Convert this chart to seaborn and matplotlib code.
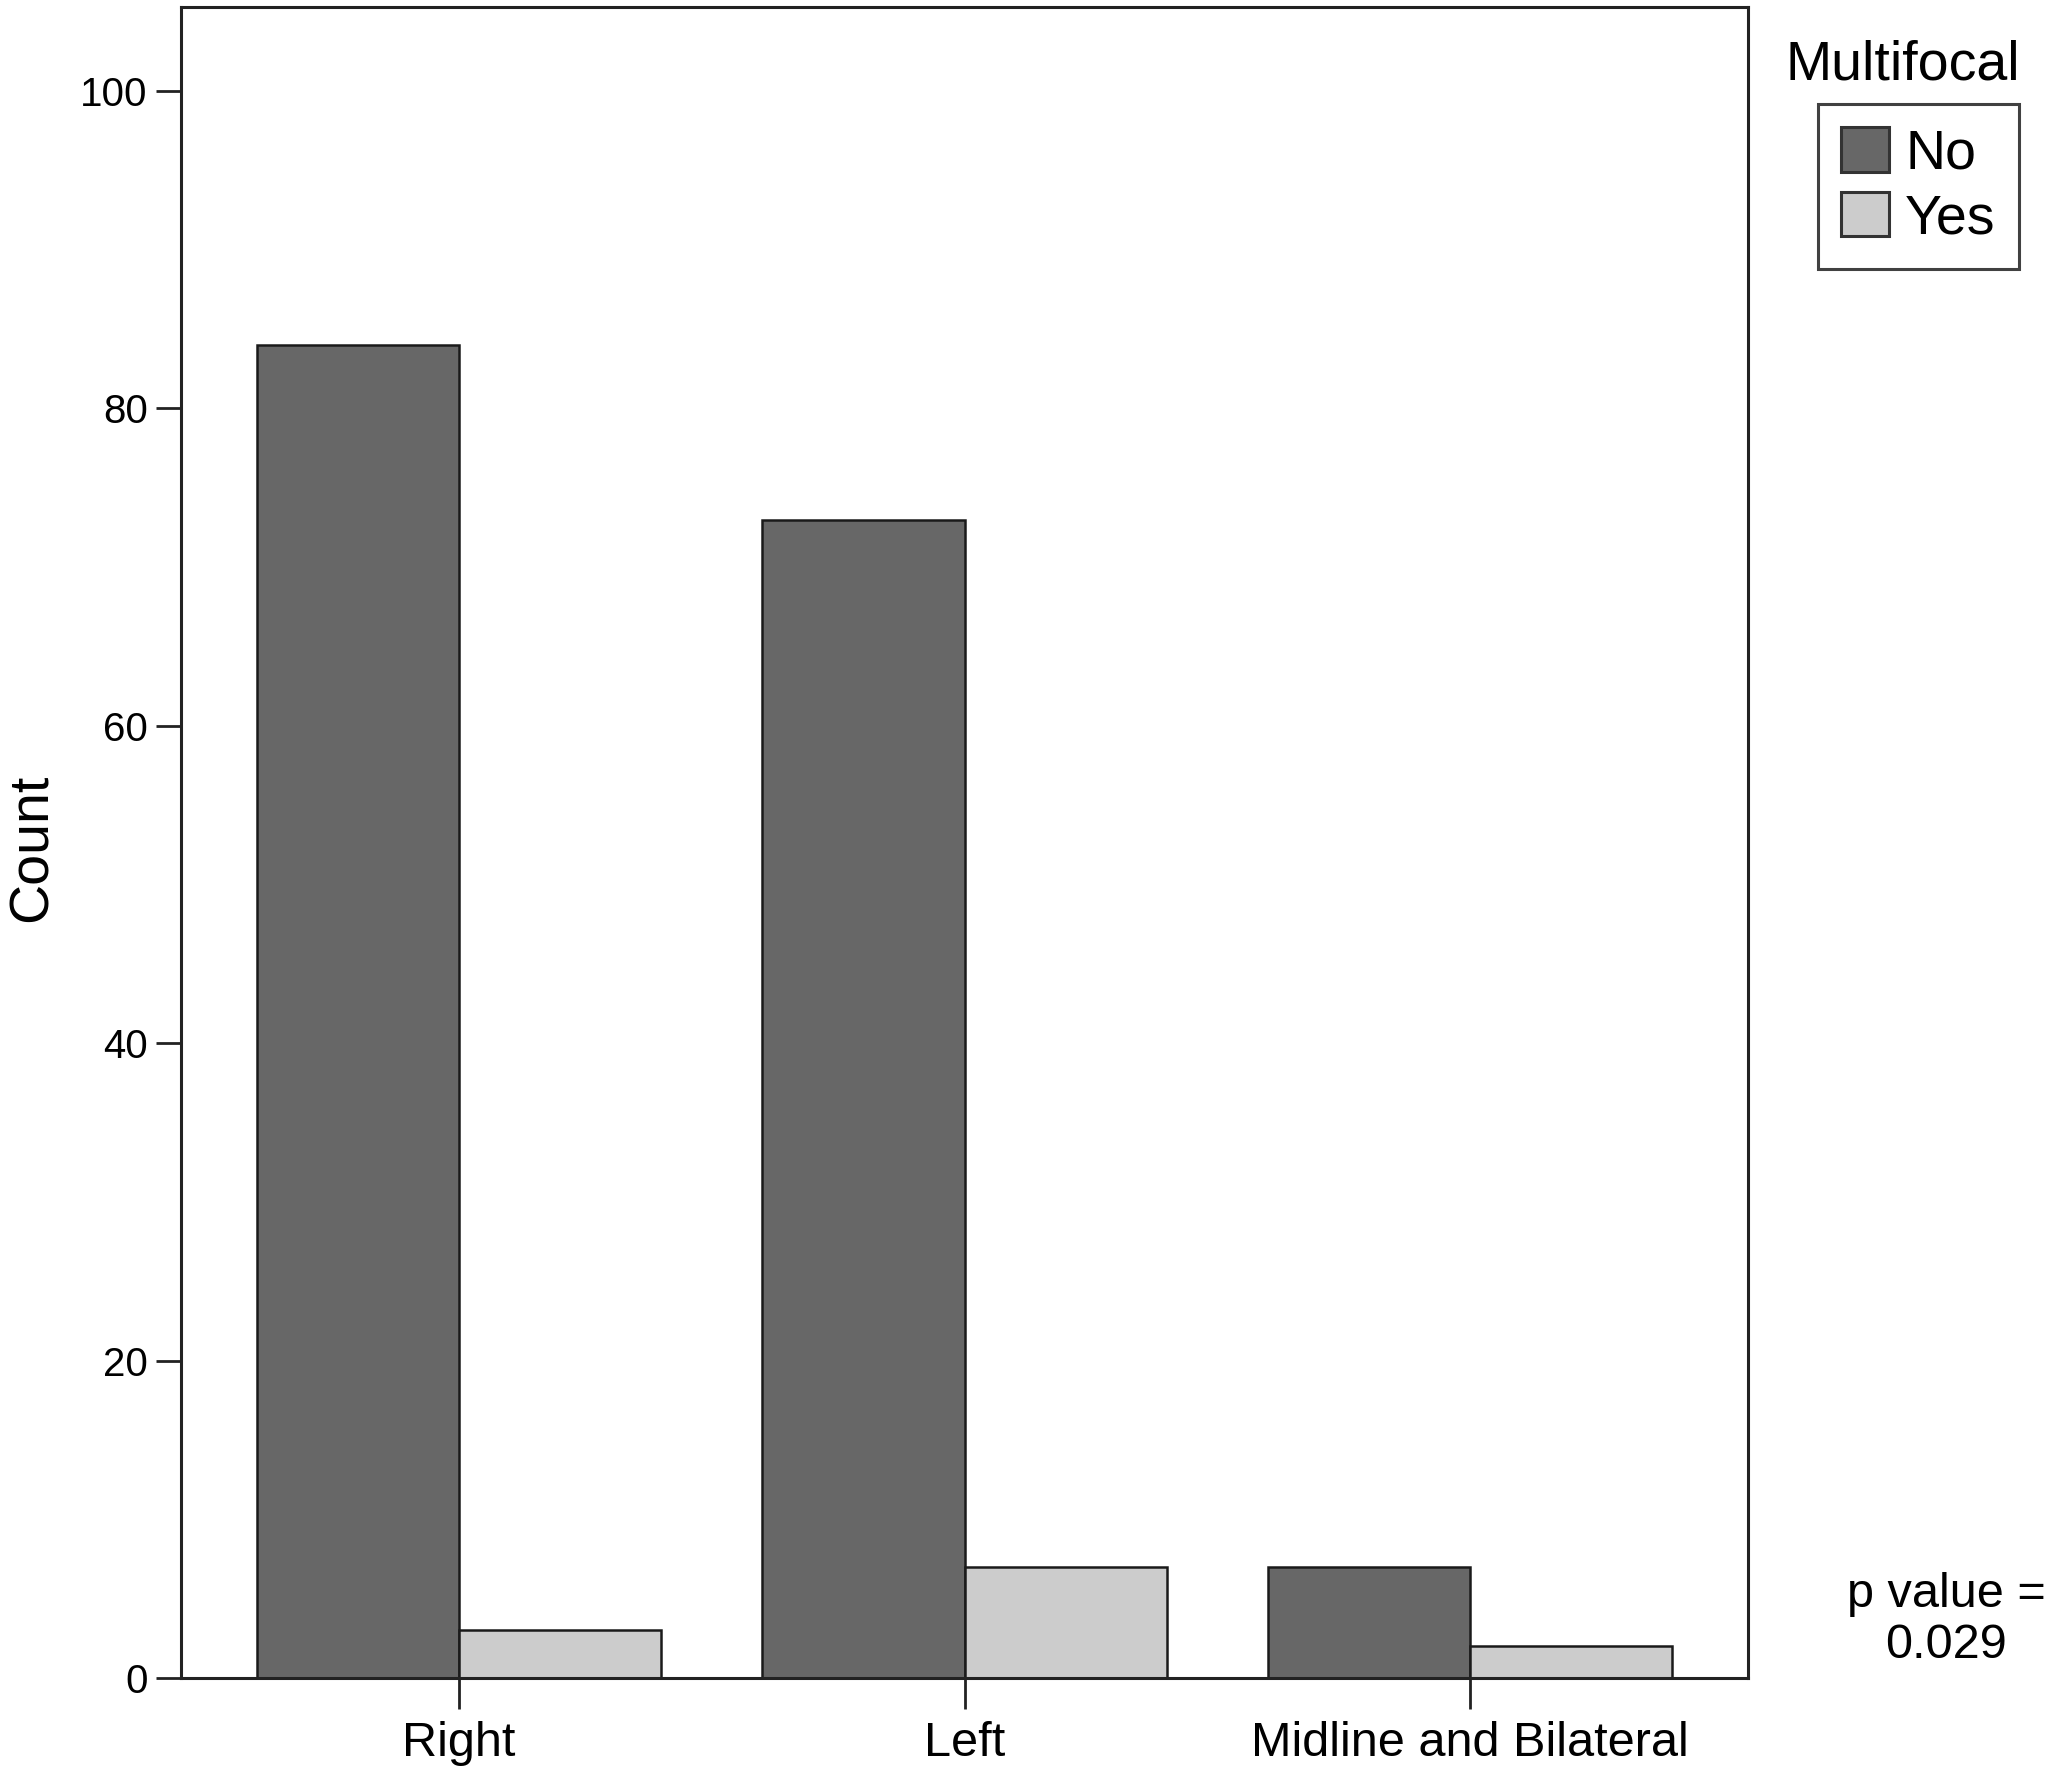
import matplotlib
matplotlib.use("Agg")
import matplotlib.pyplot as plt
import pandas as pd
import seaborn as sns
from matplotlib.patches import Patch

# data
sides = ["Right", "Left", "Midline and Bilateral"]
no_counts = [84, 73, 7]
yes_counts = [3, 7, 2]
groups = ["No", "Yes"]
bar_colors = {"No": "#676767", "Yes": "#cccccc"}
y_ticks = [0, 20, 40, 60, 80, 100]

df = pd.DataFrame({
    "side": sides * 2,
    "Multifocal": ["No"] * len(sides) + ["Yes"] * len(sides),
    "Count": no_counts + yes_counts,
})

sns.set_style("white")
plt.rcParams["font.family"] = ["Liberation Sans", "DejaVu Sans"]
plt.rcParams["text.color"] = "black"
plt.rcParams["axes.labelcolor"] = "black"
plt.rcParams["xtick.color"] = "black"
plt.rcParams["ytick.color"] = "black"

fig = plt.figure(figsize=(20.45, 17.68), dpi=100)
ax = fig.add_axes([181 / 2045, 90 / 1768, (1748 - 181) / 2045, (1761 - 90) / 1768])

sns.barplot(data=df, x="side", y="Count", hue="Multifocal", order=sides,
            hue_order=groups, palette=bar_colors, width=0.8,
            edgecolor="#1a1a1a", linewidth=1.8, legend=False, ax=ax)

ax.set_xlim(-0.55, 2.55)
ax.set_ylim(0, 105.3)
ax.set_yticks(y_ticks)
ax.set_xlabel("")
ax.set_ylabel("Count", fontsize=40)
ax.yaxis.set_label_coords(-0.078, 0.497)

for sp in ax.spines.values():
    sp.set_visible(True)
    sp.set_color("#222222")
    sp.set_linewidth(2.2)

ax.tick_params(axis="y", direction="out", length=18, width=2, color="#222222",
               labelsize=29, pad=6, left=True)
ax.tick_params(axis="x", direction="out", length=22, width=2, color="#222222",
               labelsize=35, pad=9, bottom=True)

# legend: title sits above the framed box
handles = [Patch(facecolor=bar_colors[g], edgecolor="#333333", linewidth=2.2) for g in groups]
leg = fig.legend(handles, groups, loc="upper left", bbox_to_anchor=(1818 / 2045, 1 - 104 / 1768),
                 bbox_transform=fig.transFigure, borderaxespad=0, fontsize=40,
                 frameon=True, fancybox=False, shadow=False, labelspacing=0.2,
                 borderpad=0.42, handlelength=0.85, handleheight=0.85, handletextpad=0.3)
leg.get_frame().set_edgecolor("#111111")
leg.get_frame().set_linewidth(2.2)
fig.text(1903 / 2045, 1 - 65 / 1768, "Multifocal", fontsize=40, ha="center", va="center")

fig.text(1946 / 2045, 1 - 1620 / 1768, "p value =\n0.029", fontsize=35,
         ha="center", va="center", multialignment="center", linespacing=1.15)

fig.savefig("out.png", dpi=100, facecolor="white")
